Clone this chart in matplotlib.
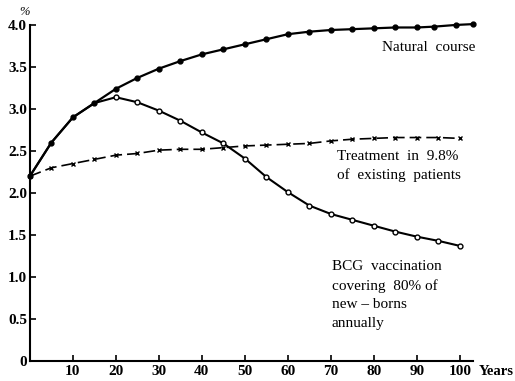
import numpy as np
import matplotlib
matplotlib.use("Agg")
import matplotlib.pyplot as plt

# values (x = years, y = %)
nat_years = [0, 5, 10, 15, 20, 25, 30, 35, 40, 45, 50, 55, 60, 65, 70, 75, 80, 85, 90, 94, 99, 103]
nat_pct = [2.2, 2.6, 2.9, 3.07, 3.24, 3.37, 3.48, 3.57, 3.65, 3.71, 3.77, 3.83, 3.89, 3.92,
           3.94, 3.95, 3.96, 3.97, 3.97, 3.98, 4.0, 4.01]

bcg_years = [0, 5, 10, 15, 20, 25, 30, 35, 40, 45, 50, 55, 60, 65, 70, 75, 80, 85, 90, 95, 100]
bcg_pct = [2.2, 2.6, 2.9, 3.07, 3.14, 3.08, 2.98, 2.86, 2.72, 2.59, 2.41, 2.19, 2.01, 1.85,
           1.75, 1.68, 1.61, 1.54, 1.48, 1.43, 1.37]

trt_years = [0, 5, 10, 15, 20, 25, 30, 35, 40, 45, 50, 55, 60, 65, 70, 75, 80, 85, 90, 95, 100]
trt_pct = [2.2, 2.3, 2.35, 2.4, 2.45, 2.47, 2.51, 2.52, 2.52, 2.54, 2.56, 2.57, 2.58, 2.59,
           2.62, 2.64, 2.65, 2.66, 2.66, 2.66, 2.65]

yticks = [0, 0.5, 1.0, 1.5, 2.0, 2.5, 3.0, 3.5, 4.0]
ytick_labels = ["0", "0.5", "1.0", "1.5", "2.0", "2.5", "3.0", "3.5", "4.0"]
xticks = [10, 20, 30, 40, 50, 60, 70, 80, 90, 100]

serif = "Liberation Serif"

fig = plt.figure(figsize=(5.15, 3.81), dpi=100)
ax = fig.add_axes([0.058, 0.0525, 0.86, 0.893])

# BCG line first so the filled natural-course dots sit on top where they overlap
ax.plot(bcg_years, bcg_pct, "-", color="black", lw=1.5, marker="o", ms=3.5,
        mfc="white", mec="black", mew=1.0, markevery=list(range(4, len(bcg_years))),
        clip_on=False)
ax.plot(trt_years, trt_pct, color="black", lw=1.2, dashes=(7, 3), marker="x", ms=3.5,
        mew=1.0, clip_on=False)
ax.plot(nat_years, nat_pct, "-", color="black", lw=1.6, marker="o", ms=3.5,
        mfc="black", mec="black", clip_on=False)

ax.set_xlim(0, 103)
ax.set_ylim(0, 4.05)
ax.spines["top"].set_visible(False)
ax.spines["right"].set_visible(False)
ax.spines["left"].set_bounds(0, 4.0)
ax.spines["left"].set_linewidth(1.5)
ax.spines["bottom"].set_linewidth(1.5)

ax.set_xticks(xticks)
ax.set_xticklabels([str(t) for t in xticks], fontfamily=serif, fontweight="bold", fontsize=11)
ax.set_yticks(yticks)
ax.set_yticklabels(ytick_labels, fontfamily=serif, fontweight="bold", fontsize=11)
ax.tick_params(axis="both", direction="in", length=4, width=1.2, pad=3)
ax.tick_params(axis="y", pad=2)

# labels
ax.text(-1.3, 4.08, "%", fontfamily=serif, fontsize=9, style="italic",
        ha="center", va="bottom")
ax.text(104.5, -0.13, "Years", fontfamily=serif, fontweight="bold", fontsize=10.5,
        ha="left", va="center", clip_on=False)

ax.text(82, 3.73, "Natural  course", fontfamily=serif, fontsize=11, ha="left", va="center")
ax.text(71.4, 2.51, "Treatment  in  9.8%\nof  existing  patients", fontfamily=serif,
        fontsize=11, ha="left", va="top", linespacing=1.5)
ax.text(70.2, 1.2, "BCG  vaccination\ncovering  80% of\nnew – borns\nannually",
        fontfamily=serif, fontsize=11, ha="left", va="top", linespacing=1.55)

fig.savefig("out.png", dpi=100)
